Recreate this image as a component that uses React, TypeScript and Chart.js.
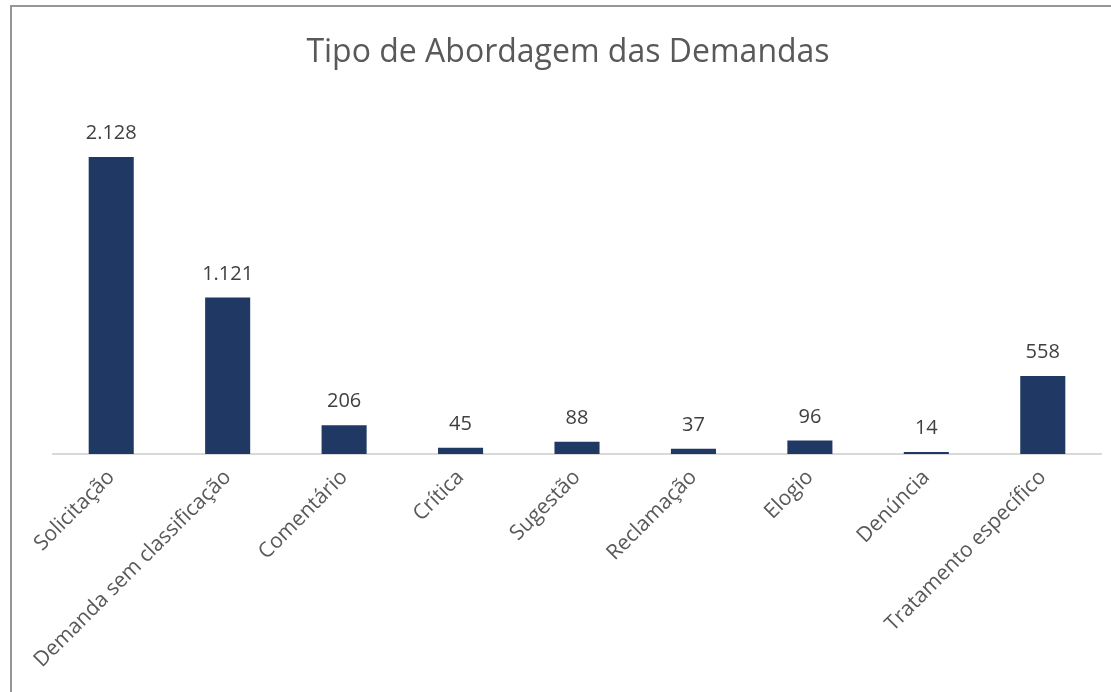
import React, { useEffect, useRef } from "react";
import { Chart, registerables } from "chart.js";

Chart.register(...registerables);

const chartTitle = "Tipo de Abordagem das Demandas";
const categories = [
  "Solicitação",
  "Demanda sem classificação",
  "Comentário",
  "Crítica",
  "Sugestão",
  "Reclamação",
  "Elogio",
  "Denúncia",
  "Tratamento específico",
];
const values = [2128, 1121, 206, 45, 88, 37, 96, 14, 558];
const yMin = 0;
const yMax = 2500;

function fmt(n: number): string {
  return String(n).replace(/\B(?=(\d{3})+(?!\d))/g, ".");
}

const FONT = '"Open Sans", "Liberation Sans", sans-serif';

const dataLabels = {
  id: "dataLabels",
  afterDatasetsDraw(chart: any) {
    const { ctx } = chart;
    const meta = chart.getDatasetMeta(0);
    ctx.save();
    ctx.font = `20px ${FONT}`;
    ctx.fillStyle = "#404040";
    ctx.textAlign = "center";
    ctx.textBaseline = "alphabetic";
    meta.data.forEach((el: any, i: number) => {
      ctx.fillText(fmt(values[i]), el.x, el.y - 18);
    });
    ctx.restore();
  },
};

export default function App() {
  const ref = useRef<HTMLCanvasElement | null>(null);

  useEffect(() => {
    if (!ref.current) return;
    const chart = new Chart(ref.current, {
      type: "bar",
      data: {
        labels: categories,
        datasets: [
          {
            data: values,
            backgroundColor: "#1F3864",
            borderWidth: 0,
            barPercentage: 0.387,
            categoryPercentage: 1,
          },
        ],
      },
      options: {
        responsive: false,
        animation: false,
        layout: { padding: { left: 35, right: 10, top: 0, bottom: 0 } },
        plugins: {
          legend: { display: false },
          tooltip: { enabled: false },
          title: {
            display: true,
            text: chartTitle,
            color: "#595959",
            font: { family: FONT, size: 32, weight: "normal" },
            padding: { top: 34, bottom: 32.6 },
          },
        },
        scales: {
          x: {
            grid: { display: false, drawTicks: false },
            border: { display: true, color: "#D9D9D9", width: 2 },
            ticks: {
              color: "#595959",
              font: { family: FONT, size: 21 },
              minRotation: 45,
              maxRotation: 45,
              padding: 11,
              autoSkip: false,
            },
            afterFit: (scale: any) => {
              scale.height = 238;
              scale.paddingLeft = 53;
              scale.paddingRight = 0;
            },
          },
          y: {
            display: false,
            min: yMin,
            max: yMax,
          },
        },
      },
      plugins: [dataLabels],
    });
    return () => chart.destroy();
  }, []);

  return (
    <div
      style={{
        position: "fixed",
        left: 0,
        top: 0,
        width: 1111,
        height: 692,
        overflow: "hidden",
        background: "#fff",
      }}
    >
      <div
        style={{
          position: "absolute",
          left: 10,
          top: 5,
          width: 1300,
          height: 900,
          border: "2px solid #969696",
          boxSizing: "border-box",
        }}
      />
      <canvas
        ref={ref}
        width={1111}
        height={692}
        style={{ position: "absolute", left: 0, top: 0 }}
      />
    </div>
  );
}
